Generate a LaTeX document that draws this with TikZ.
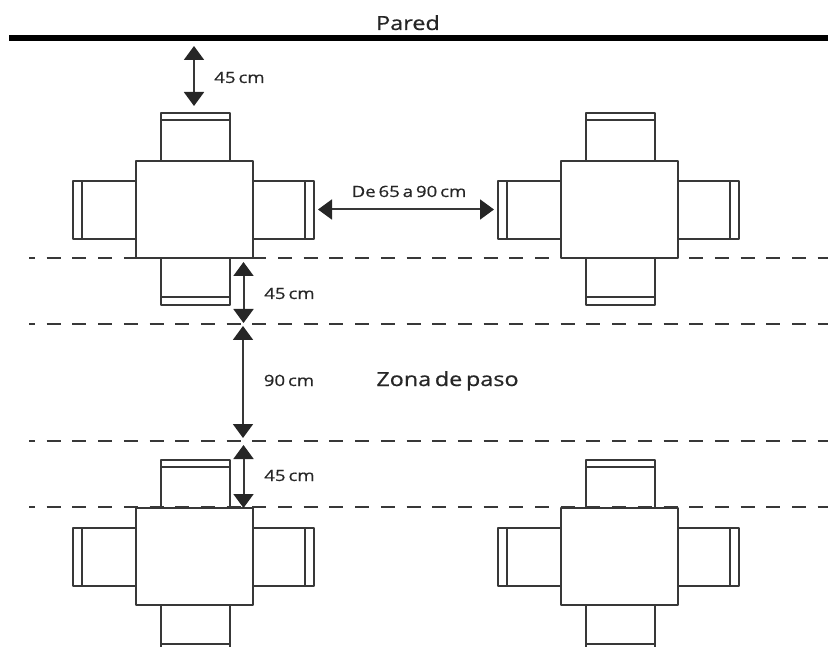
\documentclass[tikz,border=0pt]{standalone}
\usepackage{fontspec}
\setmainfont{Open Sans}
\newfontfamily\smallf[FakeStretch=1.2,FakeBold=0.6,WordSpace=0.6]{Open Sans}
\usetikzlibrary{arrows.meta}
\definecolor{ink}{HTML}{383838}
\tikzset{
  furn/.style={draw=ink,line width=2pt,line join=round},
  tabletop/.style={furn,fill=white},
  wall/.style={draw=black,line width=6pt},
  zoneline/.style={draw=ink,line width=2pt,dash pattern=on 14pt off 11.7pt,dash phase=8pt},
  dim/.style={draw=ink,line width=2pt,{Triangle[length=14pt,width=20pt,color=black!85]}-{Triangle[length=14pt,width=20pt,color=black!85]}},
  lab/.style={font=\smallf\fontsize{15.5}{18}\selectfont,text=black!85,inner sep=0pt,anchor=base},
  bigl/.style={font=\smallf\fontsize{19.5}{22}\selectfont,text=black!85,inner sep=0pt,anchor=base}
}
\newcommand{\mesagroup}[2]{%
  \begin{scope}[shift={(#1,#2)}]
    % top chair
    \draw[furn] (160.5,161) rectangle (229.5,113);
    \draw[furn] (160.5,120) -- (229.5,120);
    % bottom chair
    \draw[furn] (160.5,258) rectangle (229.5,305);
    \draw[furn] (160.5,297) -- (229.5,297);
    % left chair
    \draw[furn] (136,181) rectangle (73,239);
    \draw[furn] (82,181) -- (82,239);
    % right chair
    \draw[furn] (253,181) rectangle (314,239);
    \draw[furn] (305,181) -- (305,239);
    % table
    \draw[tabletop] (136,161) rectangle (253,258);
  \end{scope}}
\begin{document}
\begin{tikzpicture}[x=1pt,y=-1pt]
  \useasboundingbox (0,0) rectangle (828,647);
  \clip (0,0) rectangle (828,647);
  \mesagroup{0}{0}
  \mesagroup{425}{0}
  \mesagroup{0}{347}
  \mesagroup{425}{347}
  \coordinate (w0) at (9,38);
  \coordinate (w1) at (828,38);
  \draw[wall] (w0) -- (w1);
  \foreach \yy/\nm in {258/a,324/b,441/c,507/d}{
    \coordinate (z\nm0) at (29,\yy);
    \coordinate (z\nm1) at (828,\yy);
    \draw[zoneline] (z\nm0) -- (z\nm1);
  }
  \coordinate (a1) at (194,46);  \coordinate (a2) at (194,106);
  \coordinate (b1) at (243.5,262); \coordinate (b2) at (243.5,323);
  \coordinate (c1) at (243,326); \coordinate (c2) at (243,438);
  \coordinate (d1) at (243.5,445); \coordinate (d2) at (243.5,508);
  \coordinate (e1) at (318,209.5); \coordinate (e2) at (494,209.5);
  \draw[dim] (a1) -- (a2);
  \draw[dim] (b1) -- (b2);
  \draw[dim] (c1) -- (c2);
  \draw[dim] (d1) -- (d2);
  \draw[dim] (e1) -- (e2);
  \node[bigl] (pared) at (408,30) {Pared};
  \node[lab] (l1) at (239.5,83) {45 cm};
  \node[lab] (l2) at (289.5,299) {45 cm};
  \node[lab] (l3) at (289,386) {90 cm};
  \node[lab] (l4) at (289.5,481) {45 cm};
  \node[lab] (l5) at (409,197) {De 65 a 90 cm};
  \node[bigl] (zona) at (447.5,386) {Zona de paso};
\end{tikzpicture}
\end{document}
